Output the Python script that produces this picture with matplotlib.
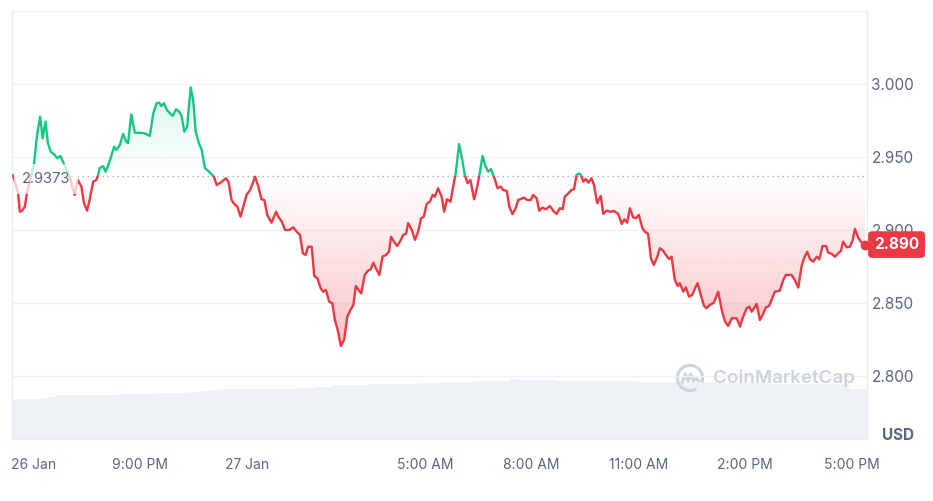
import numpy as np
import matplotlib
matplotlib.use("Agg")
import matplotlib.pyplot as plt
from matplotlib.patches import Rectangle, PathPatch, Arc
from matplotlib.path import Path

plt.rcParams['font.family'] = ['Inter', 'DejaVu Sans']

# ---------------- data ----------------
# time in hours since 26 Jan 00:00
times = [17.43,17.57,17.62,17.68,17.76,17.82,18.02,18.11,18.19,18.26,18.34,18.41,18.49,18.60,18.67,18.76,18.83,19.02,19.16,19.25,
         19.35,19.42,19.51,19.58,19.68,19.77,19.82,19.86,19.96,20.03,20.14,20.27,20.33,20.43,20.52,20.61,20.66,20.75,20.85,20.99,
         21.13,21.27,21.37,21.46,21.54,21.59,21.67,21.75,21.84,21.91,22.01,22.10,22.17,22.24,22.32,22.42,22.49,22.56,22.65,22.73,
         22.82,22.91,23.01,23.07,23.15,23.26,23.41,23.48,23.57,23.64,23.73,23.82,23.90,23.99,24.09,24.23,24.32,24.41,24.49,24.57,
         24.69,24.82,24.88,24.98,25.07,25.19,25.30,25.40,25.49,25.57,25.65,25.72,25.82,25.89,25.98,26.07,26.14,26.22,26.31,26.40,
         26.47,26.55,26.64,26.73,26.82,26.91,26.99,27.06,27.13,27.21,27.31,27.39,27.48,27.55,27.62,27.72,27.81,27.91,27.99,28.05,
         28.13,28.22,28.30,28.39,28.47,28.53,28.63,28.72,28.81,28.89,28.97,29.05,29.14,29.22,29.28,29.37,29.47,29.54,29.62,29.72,
         29.80,29.86,29.96,30.05,30.12,30.20,30.28,30.38,30.47,30.53,30.62,30.69,30.78,30.86,30.90,30.97,31.04,31.13,31.20,31.30,
         31.37,31.46,31.55,31.62,31.78,31.88,31.97,32.04,32.14,32.21,32.30,32.40,32.51,32.61,32.70,32.79,32.87,32.93,33.03,33.12,
         33.19,33.26,33.34,33.38,33.45,33.52,33.59,33.68,33.75,33.84,33.94,34.01,34.10,34.20,34.31,34.43,34.53,34.60,34.68,34.76,
         34.85,34.93,35.01,35.11,35.18,35.27,35.35,35.43,35.53,35.60,35.69,35.79,35.86,35.93,36.02,36.10,36.16,36.26,36.33,36.42,
         36.51,36.59,36.66,36.75,36.84,36.91,37.00,37.11,37.24,37.34,37.43,37.52,37.62,37.76,37.85,37.94,38.04,38.11,38.18,38.32,
         38.41,38.50,38.58,38.67,38.74,38.83,38.97,39.07,39.14,39.30,39.39,39.49,39.58,39.65,39.74,39.82,39.91,40.01,40.08,40.17,
         40.27,40.33,40.43,40.52,40.61,40.69,40.75,40.85,40.94,41.02,41.08,41.18,41.27,41.36]

prices = [2.9377,2.9253,2.9125,2.9130,2.9160,2.9253,2.9457,2.9662,2.9776,2.9628,2.9742,2.9594,2.9536,2.9514,2.9491,2.9507,2.9468,2.9365,2.9240,2.9342,
          2.9297,2.9185,2.9132,2.9205,2.9331,2.9342,2.9377,2.9423,2.9438,2.9399,2.9468,2.9571,2.9548,2.9582,2.9658,2.9605,2.9594,2.9792,2.9666,2.9666,
          2.9662,2.9644,2.9799,2.9868,2.9872,2.9849,2.9868,2.9822,2.9799,2.9781,2.9827,2.9810,2.9776,2.9673,2.9708,2.9977,2.9890,2.9673,2.9594,2.9548,
          2.9423,2.9406,2.9381,2.9365,2.9308,2.9324,2.9354,2.9331,2.9205,2.9178,2.9160,2.9091,2.9160,2.9240,2.9274,2.9365,2.9297,2.9210,2.9205,2.9103,
          2.9050,2.9125,2.9091,2.9057,2.9000,2.9000,2.9018,2.8988,2.8966,2.8840,2.8829,2.8885,2.8885,2.8685,2.8669,2.8601,2.8577,2.8589,2.8509,2.8498,
          2.8383,2.8315,2.8205,2.8247,2.8406,2.8452,2.8486,2.8616,2.8589,2.8566,2.8692,2.8719,2.8731,2.8776,2.8738,2.8692,2.8817,2.8829,2.8851,2.8954,
          2.8920,2.8890,2.8920,2.8966,2.8973,2.9046,2.9000,2.8932,2.8988,2.9080,2.9091,2.9178,2.9194,2.9240,2.9228,2.9286,2.9228,2.9125,2.9210,2.9194,
          2.9308,2.9377,2.9589,2.9479,2.9377,2.9320,2.9342,2.9210,2.9297,2.9377,2.9507,2.9445,2.9399,2.9416,2.9388,2.9342,2.9286,2.9297,2.9274,2.9267,
          2.9160,2.9108,2.9149,2.9205,2.9221,2.9205,2.9205,2.9240,2.9217,2.9132,2.9153,2.9142,2.9164,2.9130,2.9110,2.9149,2.9142,2.9228,2.9251,2.9274,
          2.9279,2.9377,2.9388,2.9377,2.9331,2.9349,2.9324,2.9354,2.9308,2.9183,2.9233,2.9110,2.9132,2.9125,2.9130,2.9110,2.9041,2.9073,2.9050,2.9149,
          2.9087,2.9080,2.9103,2.9012,2.8988,2.8973,2.8806,2.8760,2.8817,2.8875,2.8858,2.8822,2.8801,2.8817,2.8658,2.8616,2.8635,2.8577,2.8607,2.8543,
          2.8555,2.8601,2.8635,2.8555,2.8481,2.8464,2.8486,2.8500,2.8577,2.8452,2.8372,2.8342,2.8395,2.8395,2.8338,2.8406,2.8464,2.8475,2.8440,2.8493,
          2.8383,2.8425,2.8470,2.8479,2.8521,2.8577,2.8584,2.8658,2.8692,2.8692,2.8658,2.8605,2.8749,2.8806,2.8851,2.8799,2.8783,2.8817,2.8799,2.8890,
          2.8890,2.8845,2.8836,2.8817,2.8840,2.8858,2.8920,2.8881,2.8885,2.8932,2.9007,2.8943,2.8913,2.8900]

open_price = 2.9373
last_price_label = "2.890"

# 24h volume (billions USD), 15-minute bars starting at 17.4 h
vol_start = 17.4
vol_step = 0.25
volumes = [6.95,6.95,7.05,7.25,7.40,7.62,7.65,7.65,7.65,7.65,
           7.65,7.65,7.88,7.88,7.88,7.88,8.05,8.05,8.05,8.10,
           8.23,8.45,8.50,8.70,8.70,8.70,8.70,8.70,8.70,8.70,
           8.70,8.75,8.93,8.93,9.15,9.15,9.40,9.40,9.40,9.45,
           9.57,9.57,9.57,9.57,9.57,9.65,9.80,9.80,9.90,9.98,
           9.98,10.05,10.20,10.20,10.20,10.20,10.45,10.30,10.27,10.27,
           10.27,10.20,10.15,10.15,10.15,10.15,10.15,10.15,10.15,10.10,
           10.05,10.03,10.03,10.03,10.03,10.03,10.03,10.03,10.03,9.95,
           9.80,9.80,9.80,9.80,9.75,9.70,9.65,9.63,9.63,9.63,
           9.63,9.63,9.60,9.60,8.80,8.70]

xtick_pos = [18, 21, 24, 29, 32, 35, 38, 41]
xtick_labels = ["26 Jan", "9:00 PM", "27 Jan", "5:00 AM", "8:00 AM", "11:00 AM", "2:00 PM", "5:00 PM"]
ytick_pos = [2.80, 2.85, 2.90, 2.95, 3.00]
ytick_labels = ["2.800", "2.850", "2.900", "2.950", "3.000"]

# ---------------- style ----------------
GREEN = "#16c784"
RED = "#ea3943"
TXT = "#58667e"
GRID = "#eff2f5"
VOL = "#eef1f5"

W, H = 933, 501
fig = plt.figure(figsize=(W / 100, H / 100), dpi=100)
fig.patch.set_facecolor("white")

L, R, T, B = 12, 867, 11, 439
ax = fig.add_axes([L / W, (H - B) / H, (R - L) / W, (B - T) / H])
x = np.array(times)
y = np.array(prices)
x0, x1 = 17.4, 41.42
y0, y1 = 2.7568, 3.05

# volume bars on a twin axis
vax = ax.twinx()
vt = vol_start + vol_step * np.arange(len(volumes))
vax.bar(vt, volumes, width=vol_step, align="edge", color=VOL, edgecolor=VOL, linewidth=0.4)
vax.set_ylim(0, 74.9)
vax.set_xlim(x0, x1)
vax.axis("off")
ax.set_zorder(vax.get_zorder() + 1)
ax.patch.set_visible(False)

ax.set_xlim(x0, x1)
ax.set_ylim(y0, y1)

# grid
for v in ytick_pos + [3.05]:
    ax.axhline(v, color=GRID, lw=1.0, zorder=0)

# gradient fills
area = ax.fill_between(x, y, open_price, facecolor="none", edgecolor="none")
clip_path = Path.make_compound_path(*area.get_paths())
clip_patch = PathPatch(clip_path, transform=ax.transData, facecolor="none", edgecolor="none")

n = 256
g = np.zeros((n, 1, 4))
g[..., :3] = matplotlib.colors.to_rgb(GREEN)
g[:, 0, 3] = np.linspace(0.0, 0.16, n)
im_g = ax.imshow(g, extent=[x0, x1, open_price, y.max()], origin="lower", aspect="auto",
                 interpolation="bilinear", zorder=1)
im_g.set_clip_path(clip_patch)

r = np.zeros((n, 1, 4))
r[..., :3] = matplotlib.colors.to_rgb(RED)
r[:, 0, 3] = np.linspace(0.30, 0.0, n)
im_r = ax.imshow(r, extent=[x0, x1, y.min(), open_price], origin="lower", aspect="auto",
                 interpolation="bilinear", zorder=1)
im_r.set_clip_path(clip_patch)
ax.set_xlim(x0, x1)
ax.set_ylim(y0, y1)

# baseline
ax.axhline(open_price, color="#a3abb8", lw=1.0, ls=(0, (1, 2.6)), zorder=3)

# price line (green above open, red below)
lg, = ax.plot(x, y, color=GREEN, lw=1.7, solid_joinstyle="round", solid_capstyle="round", zorder=4)
lg.set_clip_path(Rectangle((x0 - 1, open_price), x1 - x0 + 2, 1.0, transform=ax.transData))
lr, = ax.plot(x, y, color=RED, lw=1.7, solid_joinstyle="round", solid_capstyle="round", zorder=4)
lr.set_clip_path(Rectangle((x0 - 1, open_price - 1.0), x1 - x0 + 2, 1.0, transform=ax.transData))

ax.plot([x[-1]], [y[-1]], "o", color=RED, ms=6, zorder=6, clip_on=False)

# open price label
ax.annotate(f"{open_price:.4f}", xy=(0.0117, open_price), xycoords=("axes fraction", "data"),
            xytext=(0, -2.5), textcoords="offset points", ha="left", va="center",
            fontsize=10.5, color=TXT, zorder=5,
            bbox=dict(boxstyle="square,pad=0.55", facecolor="white", edgecolor="none", alpha=0.72))

# last price badge
ax.annotate(last_price_label, xy=(1.0, y[-1]), xycoords=("axes fraction", "data"),
            xytext=(5, 0), textcoords="offset points", ha="left", va="center",
            fontsize=11, color="white", fontweight="bold", zorder=10, annotation_clip=False,
            bbox=dict(boxstyle="round,pad=0.38,rounding_size=0.25", facecolor=RED, edgecolor="none"))

# axes cosmetics
ax.spines["top"].set_visible(False)
for s in ["left", "right", "bottom"]:
    ax.spines[s].set_color("#e9ecf0")
    ax.spines[s].set_linewidth(1.0)

ax.set_xticks(xtick_pos)
ax.set_xticklabels(xtick_labels)
ax.tick_params(axis="x", length=0, pad=13.5, labelsize=10, labelcolor=TXT)

ax.yaxis.tick_right()
ax.set_yticks(ytick_pos)
ax.set_yticklabels(ytick_labels)
ax.tick_params(axis="y", length=0, pad=34, labelsize=11, labelcolor=TXT)
for lab in ax.get_yticklabels():
    lab.set_horizontalalignment("right")

fig.text(914 / W, (H - 435) / H, "USD", ha="right", va="center", fontsize=11,
         fontweight="bold", color=TXT)

# watermark
WM = "#cdd3dc"
ax.text((713 - L) / (R - L), (B - 378) / (B - T), "CoinMarketCap", transform=ax.transAxes,
        ha="left", va="center", fontsize=13.5, fontweight="semibold", color=WM, zorder=2)
lax = fig.add_axes([676 / W, (H - 392) / H, 28 / W, 28 / H])
lax.set_xlim(0, 1)
lax.set_ylim(0, 1)
lax.axis("off")
lax.add_patch(Arc((0.5, 0.5), 0.9, 0.9, theta1=-20, theta2=300, color=WM, lw=2.2))
lax.plot([0.22, 0.33, 0.43, 0.52, 0.62, 0.72, 0.82], [0.34, 0.64, 0.40, 0.64, 0.40, 0.48, 0.40],
         color=WM, lw=2.2, solid_joinstyle="round", solid_capstyle="round")

fig.savefig("out.png", dpi=100, facecolor="white")
